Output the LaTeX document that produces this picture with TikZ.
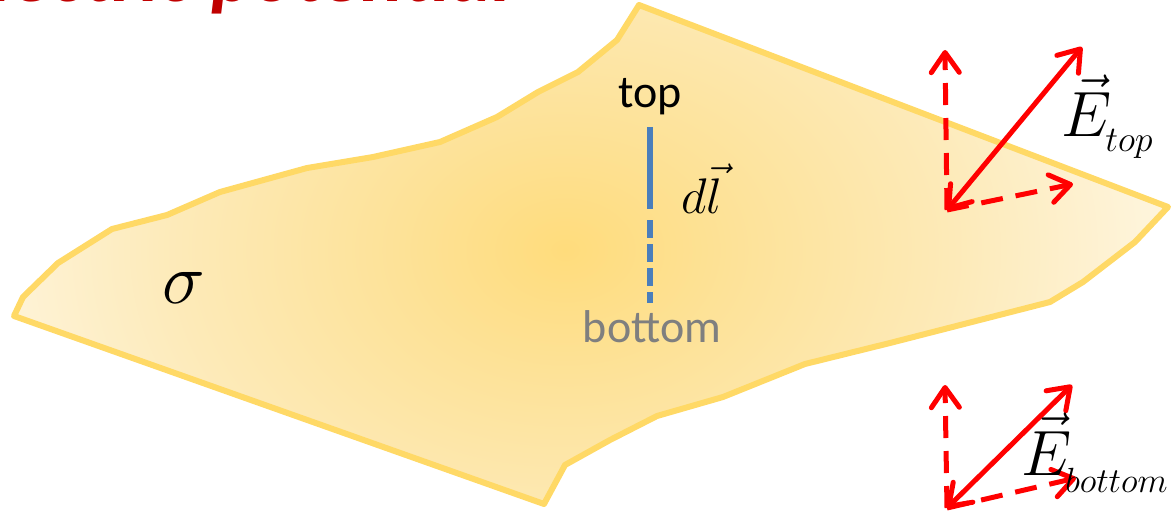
\RequirePackage{fix-cm}
\documentclass[tikz,border=0pt]{standalone}
\usepackage{fontspec}
\newfontfamily\calfont{Carlito}
\usetikzlibrary{arrows.meta}
\definecolor{sheetc}{HTML}{FFDC7C}
\definecolor{sheetm}{HTML}{FDE298}
\definecolor{sheetn}{HTML}{FDEAB8}
\definecolor{sheete}{HTML}{FEF4DA}
\definecolor{sheetline}{HTML}{FFD966}
\definecolor{lineblue}{HTML}{4A7EBB}
\definecolor{titlered}{HTML}{C00000}
\definecolor{labelgray}{HTML}{7F7F7F}
\pgfdeclareradialshading{sheetshade}{\pgfpoint{0bp}{0bp}}{color(0bp)=(sheetc); color(7bp)=(sheetm); color(16bp)=(sheetn); color(24bp)=(sheete); color(50bp)=(sheete)}
\tikzset{
  sheetstyle/.style={draw=sheetline, line width=6pt, line join=round,
    path picture={\shade[shading=sheetshade] (-40,-200) rectangle (1170,700);}},
  barb/.tip={Straight Barb[round,length=20pt,width=28pt]},
  vecsolid/.style={draw=red, line width=5pt, line cap=round, barb-barb},
  vecdashed/.style={draw=red, line width=5pt, dash pattern=on 22pt off 13pt, -barb},
  blueline/.style={draw=lineblue, line width=6pt},
  bluedashed/.style={draw=lineblue, line width=6pt, dash pattern=on 18pt off 6pt},
  calibrilabel/.style={inner sep=0pt, font=\calfont\fontsize{46}{46}\selectfont},
  mathlabel/.style={inner sep=0pt}
}
\begin{document}
\begin{tikzpicture}[x=1pt,y=-1pt]
\useasboundingbox (0,0) rectangle (1173,516);
% title (cut off at the top)
\node[anchor=base east, inner sep=0pt, text=titlered, font=\calfont\bfseries\itshape\fontsize{80}{80}\selectfont] (title) at (512,2) {Electric potential};
% charged sheet
\path[sheetstyle] (639,5) -- (1168,207) -- (1135,242) -- (1083,282) -- (1050,302) -- (890,343) -- (805,364) -- (723,397) -- (657,416) -- (610,440) -- (565,465) -- (544,504) -- (14,316) -- (23,297) -- (58,263) -- (112,229) -- (167,215) -- (220,192) -- (307,168) -- (373,157) -- (440,142) -- (497,117) -- (538,92) -- (578,72) -- (617,40) -- cycle;
% dl segment
\coordinate (ltop) at (650,127);
\coordinate (lmid) at (650,209);
\coordinate (ldash) at (650,220);
\coordinate (lbot) at (650,303);
\draw[blueline] (ltop) -- (lmid);
\draw[bluedashed] (ldash) -- (lbot);
\node[calibrilabel, anchor=base] (toplabel) at (650,108) {top};
\node[calibrilabel, anchor=base, text=labelgray] (bottomlabel) at (652,342) {bottom};
\node[mathlabel, anchor=base west, font=\fontsize{50}{50}\selectfont] (dl) at (681,213) {$d\vec{l}$};
\node[mathlabel, anchor=base, font=\fontsize{72}{72}\selectfont] (sigma) at (184,303) {$\sigma$};
% E top vectors
\coordinate (ot) at (947,210);
\coordinate (vt) at (945,50);
\coordinate (dt) at (1082,47);
\coordinate (ht) at (1073,184);
\draw[vecdashed] (ot) -- (vt);
\draw[vecdashed] (ot) -- (ht);
\draw[vecsolid] (ot) -- (dt);
% E bottom vectors
\coordinate (ob) at (947,508);
\coordinate (vb) at (945,385);
\coordinate (db) at (1072,385);
\coordinate (hb) at (1076,478);
\draw[vecdashed] (ob) -- (vb);
\draw[vecdashed] (ob) -- (hb);
\draw[vecsolid] (ob) -- (db);
% labels
\node[mathlabel, anchor=base west] (etop) at (1061,137) {{\fontsize{64}{64}\selectfont$\vec{E}$}\kern-6pt\raisebox{-15pt}{\fontsize{36}{36}\selectfont$top$}};
\node[mathlabel, anchor=base west] (ebot) at (1021,475) {{\fontsize{64}{64}\selectfont$\vec{E}$}\kern-6pt\raisebox{-17pt}{\fontsize{35}{35}\selectfont$bottom$}};
\end{tikzpicture}
\end{document}
